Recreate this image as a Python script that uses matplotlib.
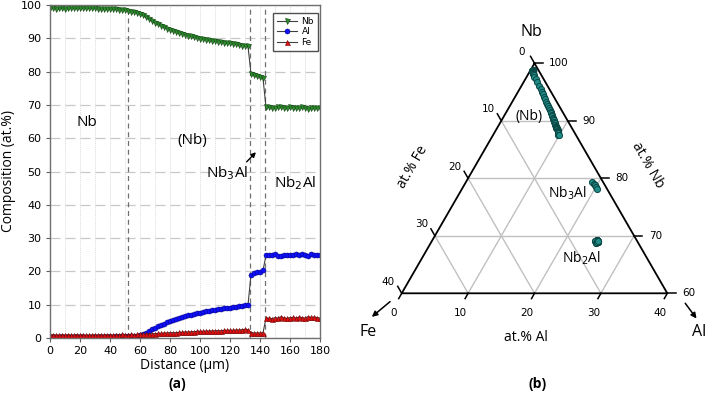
import numpy as np
import matplotlib
matplotlib.use("Agg")
import matplotlib.pyplot as plt

# ---------------- data ----------------
distance = np.arange(0, 181, 2)  # µm, one analysis every 2 µm

nb = [99.0, 99.1, 98.9, 99.0, 99.0, 98.9, 99.0, 99.1, 99.0, 99.0,
      99.1, 99.2, 99.1, 99.0, 99.1, 99.0, 98.9, 98.9, 98.8, 98.8,
      98.8, 98.7, 98.7, 98.6, 98.6, 98.5,
      98.3, 98.0, 97.8, 97.6, 97.3, 96.9, 96.3, 95.7, 95.2, 94.7,
      94.2, 93.8, 93.3, 92.9, 92.6, 92.2, 91.9, 91.6, 91.3, 91.0,
      90.8, 90.6, 90.3, 90.1, 89.9, 89.8, 89.6, 89.5, 89.3, 89.2,
      89.0, 88.9, 88.7, 88.6, 88.5, 88.4, 88.2, 88.0, 87.8, 87.7,
      87.6,
      79.4, 78.9, 78.6, 78.3, 78.0,
      69.3, 69.4, 69.1, 69.2, 69.3, 69.5, 69.2, 69.1, 69.4, 69.2,
      69.0, 69.1, 69.3, 69.0, 68.9, 69.2, 69.0, 69.0, 69.1]

al = [0.3, 0.3, 0.4, 0.3, 0.3, 0.4, 0.3, 0.3, 0.4, 0.3,
      0.3, 0.4, 0.3, 0.4, 0.4, 0.3, 0.4, 0.4, 0.3, 0.4,
      0.4, 0.4, 0.5, 0.4, 0.5, 0.5,
      0.5, 0.5, 0.6, 0.7, 0.9, 1.1, 1.5, 2.0, 2.6, 3.1,
      3.5, 3.9, 4.3, 4.7, 5.0, 5.4, 5.7, 6.0, 6.3, 6.6,
      6.8, 7.0, 7.2, 7.4, 7.6, 7.8, 8.0, 8.2, 8.3, 8.5,
      8.6, 8.8, 8.9, 9.0, 9.1, 9.3, 9.4, 9.6, 9.7, 9.8,
      9.9,
      19.0, 19.4, 19.7, 19.9, 20.3,
      24.8, 24.9, 25.0, 25.2, 24.7, 24.6, 24.8, 24.9, 25.0, 24.8,
      25.1, 25.0, 25.2, 24.9, 24.5, 25.1, 25.0, 24.9, 25.0]

fe = [0.9, 1.0, 0.9, 0.9, 1.0, 0.9, 1.0, 0.9, 0.9, 1.0,
      0.9, 1.0, 0.8, 0.9, 0.9, 1.0, 0.9, 1.0, 0.9, 1.0,
      1.0, 0.9, 1.0, 1.0, 1.1, 1.0,
      1.0, 1.1, 1.0, 1.1, 1.1, 1.2, 1.2, 1.2, 1.3, 1.3,
      1.4, 1.4, 1.5, 1.5, 1.6, 1.6, 1.6, 1.7, 1.7, 1.8,
      1.8, 1.9, 1.9, 2.0, 2.0, 2.0, 2.1, 2.1, 2.1, 2.2,
      2.2, 2.2, 2.3, 2.3, 2.3, 2.3, 2.4, 2.4, 2.5, 2.6,
      2.5,
      1.6, 1.5, 1.5, 1.5, 1.6,
      5.9, 6.0, 5.8, 6.1, 6.0, 6.4, 6.0, 5.9, 6.1, 6.2,
      6.0, 6.3, 6.1, 6.0, 6.4, 6.2, 6.3, 6.1, 6.0]

boundaries = [52, 133, 143]
x_ticks = [0, 20, 40, 60, 80, 100, 120, 140, 160, 180]
y_ticks = [0, 10, 20, 30, 40, 50, 60, 70, 80, 90, 100]

tern_nb_ticks = [100, 90, 80, 70, 60]
tern_fe_ticks = [0, 10, 20, 30, 40]
tern_al_ticks = [0, 10, 20, 30, 40]

# ---------------- figure ----------------
W, H = 707, 393
fig = plt.figure(figsize=(W / 100, H / 100), dpi=100)
LABEL_FONT = ["Open Sans", "DejaVu Sans"]

# ----- panel (a) -----
axl, axr, axt, axb = 50, 320, 5, 338
ax = fig.add_axes([axl / W, 1 - axb / H, (axr - axl) / W, (axb - axt) / H])

ax.set_xlim(0, 180)
ax.set_ylim(0, 100)
ax.set_xticks(x_ticks)
ax.set_yticks(y_ticks)
ax.set_xticks(np.arange(10, 180, 20), minor=True)
ax.tick_params(axis="both", which="major", labelsize=8, length=3,
               color="#606060", pad=3)
ax.tick_params(axis="x", which="minor", length=0)
ax.grid(axis="y", which="major", color="#c8c8c8", linestyle=(0, (8, 4)),
        linewidth=0.9)
ax.grid(axis="x", which="both", color="#dcdcdc", linestyle=(0, (1, 1)),
        linewidth=0.7)
ax.set_axisbelow(True)
for s in ax.spines.values():
    s.set_color("#707070")
    s.set_linewidth(1.0)

for b in boundaries:
    ax.axvline(b, color="#707070", linestyle=(0, (4, 3)), linewidth=0.9,
               zorder=1.5)

line_kw = dict(color="#404040", linewidth=0.8, markersize=3.6,
               markeredgewidth=0.4)
ax.plot(distance, nb, marker="v", markerfacecolor="#2e8b2e",
        markeredgecolor="#0d3d0d", label="Nb", **line_kw)
ax.plot(distance, al, marker="o", markerfacecolor="#1010ff",
        markeredgecolor="#000080", label="Al", **line_kw)
ax.plot(distance, fe, marker="^", markerfacecolor="#e01010",
        markeredgecolor="#700000", label="Fe", **line_kw)

leg = ax.legend(loc="upper right", bbox_to_anchor=(0.993, 0.976),
                borderaxespad=0, fontsize=6.5, handlelength=2.2,
                handletextpad=0.5, labelspacing=0.15, borderpad=0.45,
                fancybox=False, framealpha=1)
leg.get_frame().set_edgecolor("#505050")
leg.get_frame().set_linewidth(1.0)

ax.set_xlabel("Distance (µm)", fontsize=10, family=LABEL_FONT, labelpad=1)
ax.set_ylabel("Composition (at.%)", fontsize=10, family=LABEL_FONT, labelpad=3)

ann_kw = dict(fontsize=11, family=LABEL_FONT, ha="center", va="center")
ax.text(24.7, 64.6, "Nb", **ann_kw)
ax.text(95, 59.2, "(Nb)", **ann_kw)
ax.text(118.3, 49.6, "Nb$_3$Al", **ann_kw)
ax.text(163.3, 46.6, "Nb$_2$Al", **ann_kw)
ax.annotate("", xy=(137.3, 55.8), xytext=(131.1, 52.9),
            arrowprops=dict(arrowstyle="-|>", color="black", lw=1.0,
                            mutation_scale=7, shrinkA=0, shrinkB=0))

fig.text(177 / W, 1 - 384 / H, "(a)", fontsize=10, fontweight="bold",
         family=LABEL_FONT, ha="center", va="center")

# ----- panel (b): ternary -----
S = 6.64              # pixels per at.% unit
x0, y0 = 401.7, 293.3  # pixel of the Fe corner (Nb60 Fe40)
axt2 = fig.add_axes([370 / W, 0, (W - 370) / W, 1])
axt2.set_xlim((370 - x0) / S, (W - x0) / S)
axt2.set_ylim(-(H - y0) / S, y0 / S)
axt2.axis("off")

R3 = np.sqrt(3) / 2


def tern(n, a, f):
    n = np.asarray(n, float)
    a = np.asarray(a, float)
    f = np.asarray(f, float)
    s = n + a + f
    n = n / s * 100 - 60
    a = a / s * 100
    return a + n / 2, n * R3


# grid lines
g = dict(color="#c0c0c0", linewidth=1.0, zorder=1)
for k in (10, 20, 30):
    xa, ya = tern(60 + k, 0, 40 - k)
    xb, yb = tern(60 + k, 40 - k, 0)
    axt2.plot([xa, xb], [ya, yb], **g)
    xa, ya = tern(60, k, 40 - k)
    xb, yb = tern(100 - k, k, 0)
    axt2.plot([xa, xb], [ya, yb], **g)
    xa, ya = tern(60, 40 - k, k)
    xb, yb = tern(100 - k, 0, k)
    axt2.plot([xa, xb], [ya, yb], **g)

# triangle
cx, cy = tern([100, 60, 60, 100], [0, 0, 40, 0], [0, 40, 0, 0])
axt2.plot(cx, cy, color="black", linewidth=1.3, zorder=3,
          solid_joinstyle="miter")

tk = dict(color="black", linewidth=1.1, zorder=3)
tfs = 7.5
for v in tern_nb_ticks:
    px, py = tern(v, 100 - v, 0)
    axt2.plot([px, px + 1.25], [py, py], **tk)
    axt2.text(px + 2.2, py, str(v), fontsize=tfs, ha="left", va="center")
for v in tern_fe_ticks:
    px, py = tern(100 - v, 0, v)
    axt2.plot([px, px - 0.6], [py, py + 1.05], **tk)
    axt2.text(px - 2.0, py + 1.75, str(v), fontsize=tfs, ha="center",
              va="center")
for v in tern_al_ticks:
    px, py = tern(60, v, 40 - v)
    axt2.plot([px, px - 0.45], [py, py - 0.8], **tk)
    axt2.text(px - 1.15, py - 2.95, str(v), fontsize=tfs, ha="center",
              va="center")

# data points
tx, ty = tern(nb, al, fe)
axt2.plot(tx, ty, linestyle="none", marker="o", markersize=4.4,
          markerfacecolor="#1f8c88", markeredgecolor="#0b4644",
          markeredgewidth=0.7, zorder=4)

lab = dict(family=LABEL_FONT, ha="center", va="center")
axt2.text(19.6, 39.4, "Nb", fontsize=11.5, **lab)
axt2.text(19.2, 26.7, "(Nb)", fontsize=10, **lab)
axt2.text(24.9, 15.0, "Nb$_3$Al", fontsize=10, **lab)
axt2.text(27.0, 5.3, "Nb$_2$Al", fontsize=10, **lab)
axt2.text(1.7, 19.0, "at.% Fe", fontsize=10, rotation=60,
          rotation_mode="anchor", **lab)
axt2.text(37.1, 19.3, "at.% Nb", fontsize=10, rotation=-60,
          rotation_mode="anchor", **lab)
axt2.text(18.7, -6.6, "at.% Al", fontsize=10, **lab)
axt2.text(-5.0, -5.8, "Fe", fontsize=11.5, **lab)
axt2.text(44.8, -5.8, "Al", fontsize=11.5, **lab)

arr = dict(arrowstyle="-|>", color="black", lw=1.1, mutation_scale=8,
           shrinkA=0, shrinkB=0)
axt2.annotate("", xy=(-4.5, -3.55), xytext=(-1.75, -1.25), arrowprops=arr,
              annotation_clip=False)
axt2.annotate("", xy=(44.4, -3.8), xytext=(42.7, -1.5), arrowprops=arr,
              annotation_clip=False)

fig.text(538 / W, 1 - 384 / H, "(b)", fontsize=10, fontweight="bold",
         family=LABEL_FONT, ha="center", va="center")

fig.savefig("out.png", dpi=100)
